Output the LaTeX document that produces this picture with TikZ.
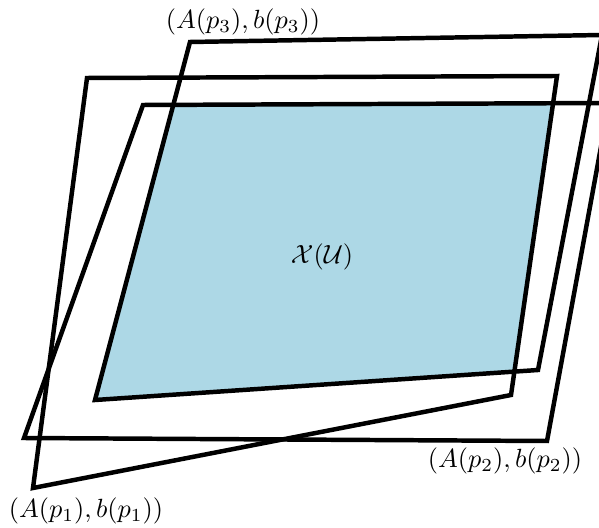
\documentclass[tikz,border=0pt]{standalone}
\usepackage{amsmath,amssymb,amsfonts}
\usepackage{xcolor}
\usepackage{tikz}
\definecolor{feasblue}{RGB}{173,216,230}

\begin{document}
\begin{tikzpicture}[
  x=0.38pt, y=-0.38pt,
  set/.style={draw=black, line width=1.7pt, line join=miter},
  lbl/.style={inner sep=0pt}
]
\useasboundingbox (0,0) rectangle (599,528);
% corners of the three sets
\coordinate (a1) at (33,488);
\coordinate (a2) at (511,395);
\coordinate (a3) at (557,76);
\coordinate (a4) at (87,78);
\coordinate (b1) at (24,438);
\coordinate (b2) at (547,441);
\coordinate (b3) at (609,103);
\coordinate (b4) at (143,105);
\coordinate (c1) at (95,400);
\coordinate (c2) at (538,370);
\coordinate (c3) at (602,35);
\coordinate (c4) at (190,42);
% intersection of the three
\begin{scope}
  \clip (a1) -- (a2) -- (a3) -- (a4) -- cycle;
  \clip (b1) -- (b2) -- (b3) -- (b4) -- cycle;
  \fill[feasblue] (c1) -- (c2) -- (c3) -- (c4) -- cycle;
\end{scope}
\draw[set] (a1) -- (a2) -- (a3) -- (a4) -- cycle;
\draw[set] (b1) -- (b2) -- (b3) -- (b4) -- cycle;
\draw[set] (c1) -- (c2) -- (c3) -- (c4) -- cycle;
\node[lbl] (xu) at (322,257) {$\mathcal{X}(\mathcal{U})$};
\node[lbl] (lp1) at (86,511) {$(A(p_1),b(p_1))$};
\node[lbl] (lp2) at (505,461) {$(A(p_2),b(p_2))$};
\node[lbl] (lp3) at (243,22) {$(A(p_3),b(p_3))$};
\end{tikzpicture}
\end{document}
